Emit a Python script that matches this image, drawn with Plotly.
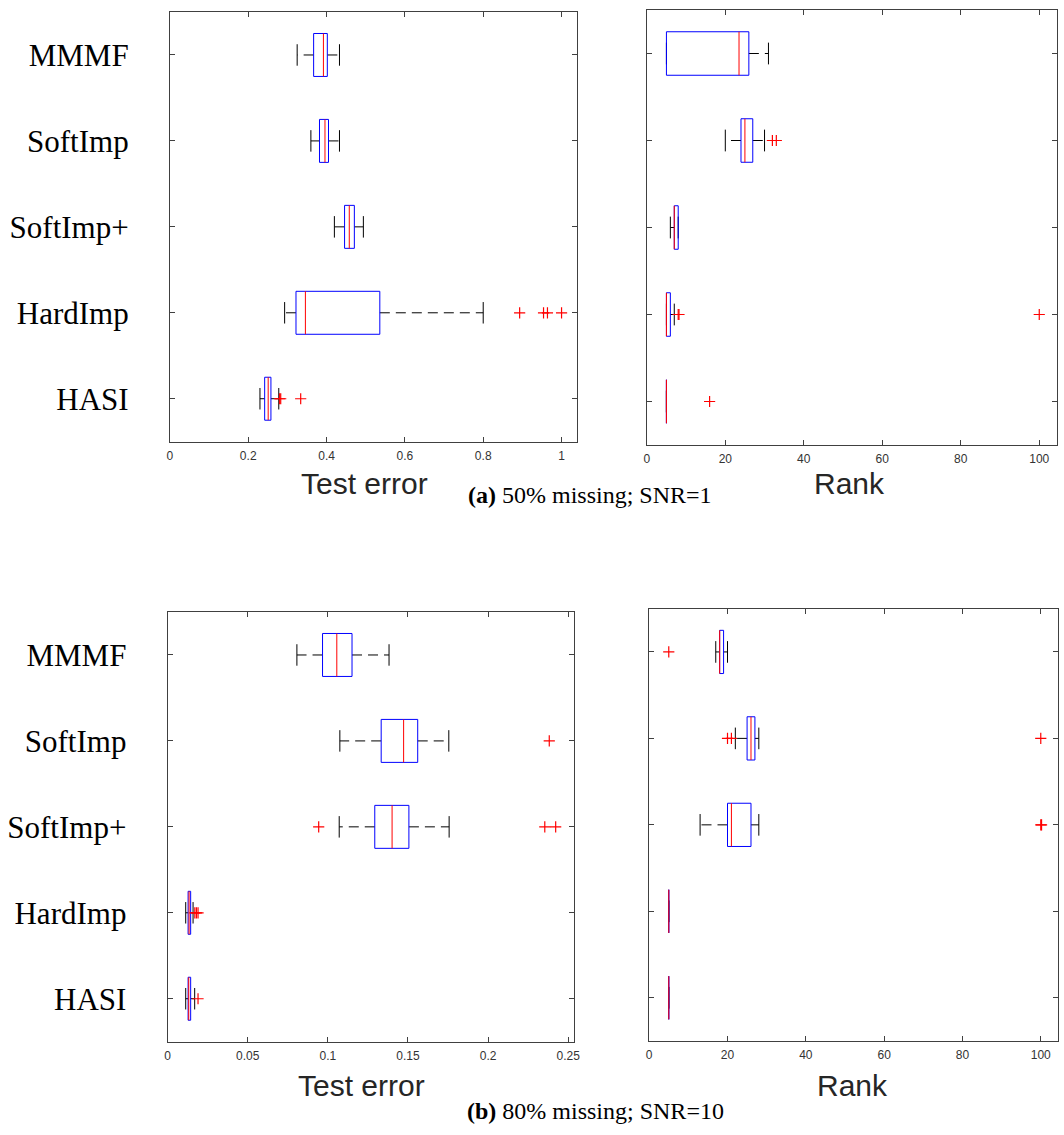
import plotly.graph_objects as go

categories = ["MMMF", "SoftImp", "SoftImp+", "HardImp", "HASI"]

# ---- (a) 50% missing; SNR=1 : Test error ----
a_err_lo = [0.325, 0.360, 0.420, 0.293, 0.230]
a_err_q1 = [0.367, 0.382, 0.446, 0.322, 0.242]
a_err_med = [0.392, 0.396, 0.458, 0.346, 0.251]
a_err_q3 = [0.402, 0.405, 0.471, 0.536, 0.258]
a_err_hi = [0.433, 0.433, 0.494, 0.800, 0.278]
a_err_out = [[], [], [], [0.893, 0.954, 0.964, 1.0], [0.280, 0.283, 0.334]]

# ---- (a) Rank ----
a_rank_lo = [5, 20, 6, 5, 5]
a_rank_q1 = [5, 24, 7, 5, 5]
a_rank_med = [23.5, 25, 7, 5, 5]
a_rank_q3 = [26, 27, 8, 6, 5]
a_rank_hi = [31, 30, 8, 7, 5]
a_rank_out = [[], [32, 33], [], [8, 8.2, 100], [16]]

# ---- (b) 80% missing; SNR=10 : Test error ----
b_err_lo = [0.0807, 0.1075, 0.1071, 0.0113, 0.0113]
b_err_q1 = [0.0967, 0.1333, 0.1293, 0.0128, 0.0128]
b_err_med = [0.1056, 0.1473, 0.1401, 0.0134, 0.0132]
b_err_q3 = [0.1151, 0.1561, 0.1506, 0.0144, 0.0144]
b_err_hi = [0.1382, 0.1755, 0.1757, 0.0159, 0.0169]
b_err_out = [[], [0.2382], [0.0943, 0.2354, 0.2422], [0.0170, 0.0180, 0.0190], [0.0190]]

# ---- (b) Rank ----
b_rank_lo = [17, 22, 13, 5, 5]
b_rank_q1 = [18, 25, 20, 5, 5]
b_rank_med = [18, 26, 21, 5, 5]
b_rank_q3 = [19, 27, 26, 5, 5]
b_rank_hi = [20, 28, 28, 5, 5]
b_rank_out = [[5], [20, 21, 100], [100, 100.2], [], []]

x_ticks_err_a = [0, 0.2, 0.4, 0.6, 0.8, 1]
x_tick_text_err_a = ["0", "0.2", "0.4", "0.6", "0.8", "1"]
x_ticks_err_b = [0, 0.05, 0.1, 0.15, 0.2, 0.25]
x_tick_text_err_b = ["0", "0.05", "0.1", "0.15", "0.2", "0.25"]
x_ticks_rank = [0, 20, 40, 60, 80, 100]
x_tick_text_rank = ["0", "20", "40", "60", "80", "100"]

W, H = 1064, 1135
BLUE, RED, BLACK = "#0000FF", "#FF0000", "#000000"
FRAME = "#404040"
BOX_H = 0.25
CAP_H = 0.125

fig = go.Figure()


def add_panel(ax, lo, q1, med, q3, hi, out):
    xr, yr = "x" + ax, "y" + ax
    n = len(categories)
    wx, wy, cx, cy, bx, by, mx, my, ox, oy = [], [], [], [], [], [], [], [], [], []
    for i in range(n):
        y = n - i
        wx += [q1[i], lo[i], None, q3[i], hi[i], None]
        wy += [y, y, None, y, y, None]
        cx += [lo[i], lo[i], None, hi[i], hi[i], None]
        cy += [y - CAP_H, y + CAP_H, None, y - CAP_H, y + CAP_H, None]
        bx += [q1[i], q3[i], q3[i], q1[i], q1[i], None]
        by += [y - BOX_H, y - BOX_H, y + BOX_H, y + BOX_H, y - BOX_H, None]
        mx += [med[i], med[i], None]
        my += [y - BOX_H, y + BOX_H, None]
        for v in out[i]:
            ox.append(v)
            oy.append(y)
    common = dict(xaxis=xr, yaxis=yr, showlegend=False, hoverinfo="skip")
    fig.add_trace(go.Scatter(x=wx, y=wy, mode="lines",
                             line=dict(color=BLACK, width=1, dash="10px,6px"), **common))
    fig.add_trace(go.Scatter(x=cx, y=cy, mode="lines",
                             line=dict(color=BLACK, width=1), **common))
    fig.add_trace(go.Scatter(x=bx, y=by, mode="lines",
                             line=dict(color=BLUE, width=1), **common))
    fig.add_trace(go.Scatter(x=mx, y=my, mode="lines",
                             line=dict(color=RED, width=1), **common))
    fig.add_trace(go.Scatter(x=ox, y=oy, mode="markers",
                             marker=dict(symbol="cross-thin", size=8,
                                         line=dict(color=RED, width=1.2)), **common))


add_panel("", a_err_lo, a_err_q1, a_err_med, a_err_q3, a_err_hi, a_err_out)
add_panel("2", a_rank_lo, a_rank_q1, a_rank_med, a_rank_q3, a_rank_hi, a_rank_out)
add_panel("3", b_err_lo, b_err_q1, b_err_med, b_err_q3, b_err_hi, b_err_out)
add_panel("4", b_rank_lo, b_rank_q1, b_rank_med, b_rank_q3, b_rank_hi, b_rank_out)


def px_x(p):
    return p / W


def px_y(p):
    return 1 - p / H


def xaxis_cfg(x0, x1, rng, tv, tt):
    return dict(domain=[px_x(x0), min(px_x(x1), 1.0)], range=rng, tickvals=tv, ticktext=tt,
                showline=True, linecolor=FRAME, linewidth=1, mirror="ticks",
                ticks="inside", ticklen=5, tickcolor=FRAME, showgrid=False, zeroline=False,
                tickfont=dict(family="Liberation Sans", size=12, color="#333333"),
                ticklabelstandoff=3)


def yaxis_cfg(y_top, y_bot, labels):
    return dict(domain=[px_y(y_bot), px_y(y_top)], range=[0.5, 5.5],
                tickvals=[5, 4, 3, 2, 1], ticktext=categories if labels else None,
                showticklabels=labels,
                showline=True, linecolor=FRAME, linewidth=1, mirror="ticks",
                ticks="inside", ticklen=5, tickcolor=FRAME, showgrid=False, zeroline=False,
                tickfont=dict(family="Liberation Serif", size=31, color="#000000"),
                ticklabelstandoff=34)


fig.update_layout(
    width=W, height=H, margin=dict(l=0, r=0, t=0, b=0),
    paper_bgcolor="white", plot_bgcolor="white",
    xaxis=dict(xaxis_cfg(168.3, 579, [0, 1.0397], x_ticks_err_a, x_tick_text_err_a), anchor="y"),
    yaxis=dict(yaxis_cfg(12, 441.7, True), anchor="x"),
    xaxis2=dict(xaxis_cfg(649.3, 1063.3, [0, 104.6], x_ticks_rank, x_tick_text_rank), anchor="y2"),
    yaxis2=dict(yaxis_cfg(10, 445, False), anchor="x2"),
    xaxis3=dict(xaxis_cfg(166, 576.3, [0, 0.2539], x_ticks_err_b, x_tick_text_err_b), anchor="y3"),
    yaxis3=dict(yaxis_cfg(612, 1041.7, True), anchor="x3"),
    xaxis4=dict(xaxis_cfg(651.7, 1064, [0, 104.4], x_ticks_rank, x_tick_text_rank), anchor="y4"),
    yaxis4=dict(yaxis_cfg(608.7, 1041, False), anchor="x4"),
)

titles = [
    ("Test error", 365, 483),
    ("Rank", 854, 483),
    ("Test error", 362, 1085),
    ("Rank", 857, 1085),
]
for text, xc, yc in titles:
    fig.add_annotation(text=text, x=px_x(xc), y=px_y(yc), xref="paper", yref="paper",
                       showarrow=False, xanchor="center", yanchor="middle",
                       font=dict(family="Liberation Sans", size=30, color="#262626"))

captions = [
    ("<b>(a)</b> 50% missing; SNR=1", 592, 495),
    ("<b>(b)</b> 80% missing; SNR=10", 598, 1111),
]
for text, xc, yc in captions:
    fig.add_annotation(text=text, x=px_x(xc), y=px_y(yc), xref="paper", yref="paper",
                       showarrow=False, xanchor="center", yanchor="middle",
                       font=dict(family="Liberation Serif", size=24, color="#000000"))

fig.write_html("out.html")
